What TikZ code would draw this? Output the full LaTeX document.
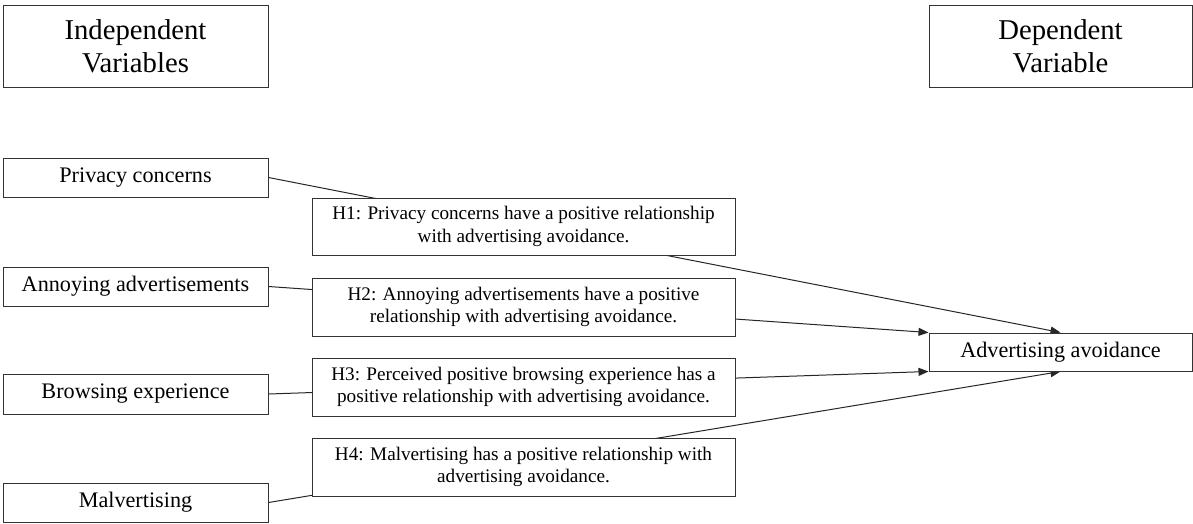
\documentclass[tikz,border=0pt]{standalone}
\usepackage{fontspec}
\setmainfont{Liberation Serif}
\usetikzlibrary{arrows.meta,backgrounds}
\begin{document}
\begin{tikzpicture}[x=1pt,y=-1pt,
  box/.style={draw=black!80,line width=1pt,fill=white,inner sep=0pt,align=center,anchor=center},
  varbox/.style={box,minimum width=265pt,minimum height=39pt,font=\fontsize{22.2}{25.5}\selectfont},
  headbox/.style={box,minimum height=82pt,font=\fontsize{28.7}{33}\selectfont},
  hypbox/.style={box,minimum width=423pt,minimum height=58pt,font=\fontsize{19.2}{22.6}\selectfont},
  conn/.style={draw=black!85,line width=1pt},
  arr/.style={conn,-{Triangle[length=10pt,width=8pt]}}]
\useasboundingbox (0,0) rectangle (1193,523);
% headers
\node[headbox,minimum width=265pt] (ind) at (135.5,46) {Independent\\Variables};
\node[headbox,minimum width=263pt] (dep) at (1060.5,46) {Dependent\\Variable};
% independent variables
\node[varbox] (pc) at (135.5,177.5) {Privacy concerns};
\node[varbox] (aa) at (135.5,286.5) {Annoying advertisements};
\node[varbox,minimum height=40pt] (be) at (135.5,394) {Browsing experience};
\node[varbox] (mv) at (135.5,502.5) {Malvertising};
% dependent variable
\node[varbox,minimum width=263pt,minimum height=38pt] (av) at (1060.5,352) {Advertising avoidance};
% hypotheses
\node[hypbox,minimum height=57pt] (h1) at (523.5,226.5) {H1: Privacy concerns have a positive relationship\\with advertising avoidance.};
\node[hypbox] (h2) at (523.5,307) {H2: Annoying advertisements have a positive\\relationship with advertising avoidance.};
\node[hypbox] (h3) at (523.5,387) {H3: Perceived positive browsing experience has a\\positive relationship with advertising avoidance.};
\node[hypbox] (h4) at (523.5,467) {H4: Malvertising has a positive relationship with\\advertising avoidance.};
% connectors behind the hypothesis boxes
\begin{scope}[on background layer]
\draw[arr] (pc.east) -- (av.north);
\draw[arr] (aa.east) -- (av.north west);
\draw[arr] (be.east) -- (av.south west);
\draw[arr] (mv.east) -- (av.south);
\end{scope}
\end{tikzpicture}
\end{document}
